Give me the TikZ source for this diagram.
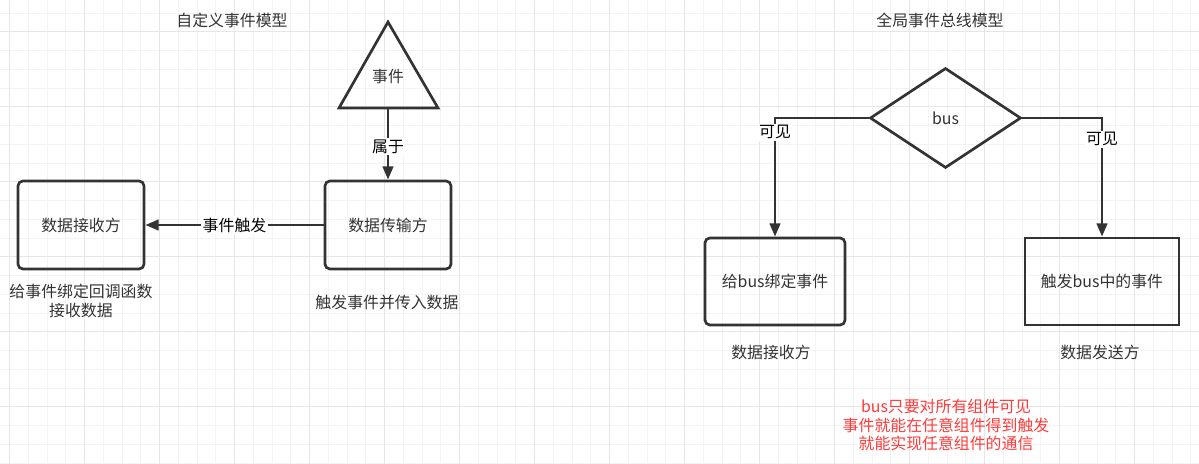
\documentclass[tikz,border=0pt]{standalone}
\usepackage{fontspec}
\setmainfont{Noto Sans CJK SC}
\usetikzlibrary{arrows.meta, shapes.geometric, positioning}
\definecolor{gridminor}{HTML}{F3F3F3}
\definecolor{gridmajor}{HTML}{E6E6E6}
\definecolor{ink}{HTML}{333333}
\definecolor{notered}{HTML}{FF3B3B}
\newcommand{\diagfont}{\fontsize{11.3}{14}\selectfont}
\tikzset{
    block/.style={draw=ink, line width=1.9pt, rounded corners=3.5pt, inner sep=0pt,
        minimum width=3.15cm, minimum height=2.2cm, font=\diagfont, text=ink},
    flow/.style={draw=ink, line width=1.9pt, -{Triangle[length=9.5pt, width=7.5pt]}},
    flowlabel/.style={fill=white, inner sep=1pt, font=\diagfont, text=black},
    caption/.style={align=center, font=\diagfont, text=ink}
}

\begin{document}
\begin{tikzpicture}[x=0.025cm, y=-0.025cm]
    \useasboundingbox (0,0) rectangle (1199,464);

    % ---------- background grid ----------
    \foreach \k in {0,...,63}
        \draw[gridminor, line width=0.6pt] ({9.5+18.75*\k},0) -- ({9.5+18.75*\k},464);
    \foreach \k in {0,...,24}
        \draw[gridminor, line width=0.6pt] (0,{13+18.75*\k}) -- (1199,{13+18.75*\k});
    \foreach \k in {0,...,15}
        \draw[gridmajor, line width=0.6pt] ({9.5+75*\k},0) -- ({9.5+75*\k},464);
    \foreach \k in {0,...,5}
        \draw[gridmajor, line width=0.6pt] (0,{31.75+75*\k}) -- (1199,{31.75+75*\k});

    % ---------- Left: custom event model ----------
    \node[caption] (title1) at (232,20) {自定义事件模型};

    \draw[ink, line width=1.9pt] (339,108) -- (388,22) -- (438,108) -- cycle;
    \node[caption] (event) at (388,76) {事件};
    \coordinate (eventbase) at (388,109);

    \node[block] (send) at (388,225) {数据传输方};
    \node[block] (recv) at (81,225) {数据接收方};

    \draw[flow] (eventbase) -- (send.north)
        node[flowlabel, pos=0.53] (belong) {属于};
    \draw[flow] (send.west) -- (recv.east)
        node[flowlabel, pos=0.5] (trigger) {事件触发};

    \node[caption] (sendnote) at (387,302) {触发事件并传入数据};
    \node[caption] (recvnote) at (81,301) {给事件绑定回调函数\\接收数据};

    % ---------- Right: global event bus model ----------
    \node[caption] (title2) at (940,20) {全局事件总线模型};

    \node[diamond, draw=ink, line width=1.9pt, inner sep=0pt, minimum width=3.775cm,
        minimum height=2.5cm, font=\diagfont, text=ink] (bus) at (945.5,118) {bus};

    \node[block, minimum width=3.5cm, minimum height=2.175cm] (bind) at (775,281.5) {给bus绑定事件};
    \node[block, rounded corners=0pt, minimum width=3.85cm, minimum height=2.175cm] (fire) at (1102,281.5) {触发bus中的事件};

    \draw[flow] (bus.west) -| (bind.north)
        node[flowlabel, pos=0.56] (seeleft) {可见};
    \draw[flow] (bus.east) -| (fire.north)
        node[flowlabel, pos=0.59] (seeright) {可见};

    \node[caption] (bindnote) at (771,352) {数据接收方};
    \node[caption] (firenote) at (1100,352) {数据发送方};

    \node[caption, text=notered, font=\fontsize{11.3}{13.1}\selectfont] (busnote) at (946,425)
        {bus只要对所有组件可见\\事件就能在任意组件得到触发\\就能实现任意组件的通信};
\end{tikzpicture}
\end{document}
